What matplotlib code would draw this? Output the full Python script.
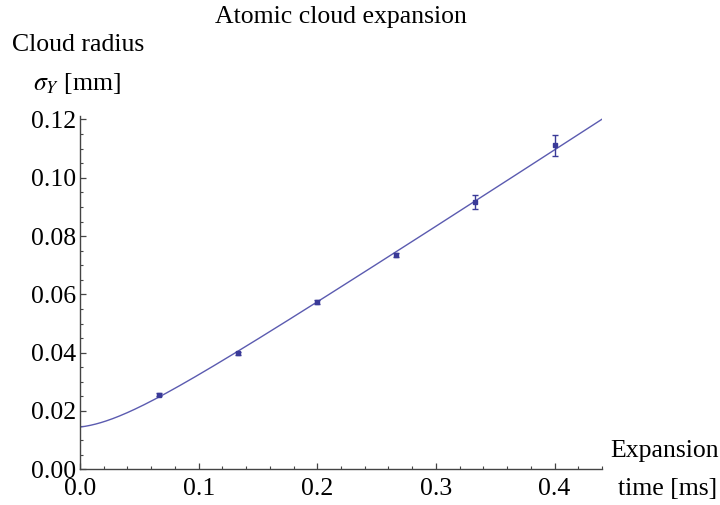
import numpy as np
import matplotlib
matplotlib.use("Agg")
import matplotlib.pyplot as plt
from matplotlib.ticker import MultipleLocator

plt.rcParams['font.family'] = 'Liberation Serif'
plt.rcParams['mathtext.fontset'] = 'stix'

# Measured cloud widths after time of flight
t_ms = [0.0667, 0.1333, 0.2, 0.2667, 0.3333, 0.4]
sigma_mm = [0.0256, 0.0398, 0.0575, 0.0736, 0.0917, 0.1111]
sigma_err = [0.0006, 0.0005, 0.0007, 0.0006, 0.0024, 0.0035]

# Ballistic expansion fit: sigma(t) = sqrt(s0^2 + v^2 (t + t0)^2)
s0 = 0.01425
v = 0.265
t0 = 0.01

line_col = '#5b5bb0'
pt_col = '#3a3a98'
fs = 18.5

fig = plt.figure(figsize=(7.2, 5.05), dpi=100)
ax = fig.add_axes([80 / 720, 35.7 / 505, 522 / 720, 353.3 / 505])

tt = np.linspace(0, 0.44, 400)
ax.plot(tt, np.sqrt(s0**2 + v**2 * (tt + t0)**2), color=line_col, lw=1.0)
ax.errorbar(t_ms, sigma_mm, yerr=sigma_err, fmt='s', ms=3.5, color=pt_col,
            ecolor=pt_col, elinewidth=1.0, capsize=2.2, capthick=1.0)

ax.set_xlim(0, 0.44)
ax.set_ylim(0, 0.1212)

for s in ['top', 'right']:
    ax.spines[s].set_visible(False)
for s in ['left', 'bottom']:
    ax.spines[s].set_color('#444444')
    ax.spines[s].set_linewidth(1.0)

ax.xaxis.set_major_locator(MultipleLocator(0.1))
ax.xaxis.set_minor_locator(MultipleLocator(0.02))
ax.yaxis.set_major_locator(MultipleLocator(0.02))
ax.yaxis.set_minor_locator(MultipleLocator(0.005))
ax.xaxis.set_major_formatter(lambda x, p: f"{x:.1f}")
ax.yaxis.set_major_formatter(lambda y, p: f"{y:.2f}")

ax.tick_params(which='both', direction='in', color='#444444', labelsize=fs)
ax.tick_params(which='major', length=4, width=0.9)
ax.tick_params(which='minor', length=2.2, width=0.8)
ax.tick_params(axis='x', pad=6)
ax.tick_params(axis='y', pad=3)

fig.text(341 / 720, 1 - 17 / 505, 'Atomic cloud expansion', ha='center',
         va='center', fontsize=fs)
fig.text(12 / 720, 1 - 45 / 505, 'Cloud radius', ha='left', va='center',
         fontsize=fs)
fig.text(33 / 720, 1 - 84 / 505, r'$\sigma_Y$ [mm]', ha='left', va='center',
         fontsize=fs)
fig.text(610 / 720, 1 - 451 / 505, 'Expansion', ha='left', va='center',
         fontsize=fs)
fig.text(618 / 720, 1 - 489 / 505, 'time [ms]', ha='left', va='center',
         fontsize=fs)

fig.savefig('out.png', dpi=100)
